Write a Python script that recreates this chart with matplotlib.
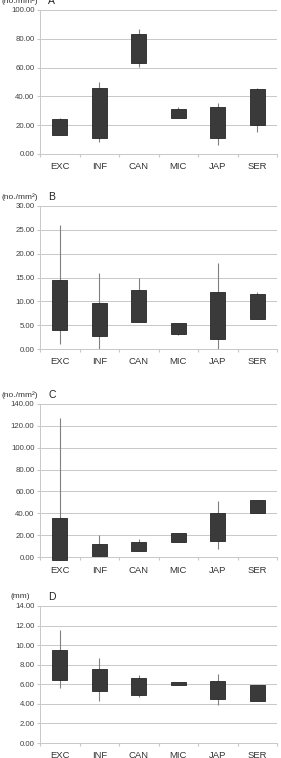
import numpy as np
import matplotlib.pyplot as plt

plt.rcParams['font.family'] = ['Liberation Sans', 'DejaVu Sans']

categorias = ['EXC', 'INF', 'CAN', 'MIC', 'JAP', 'SER']

# A
a_box_low = [13.2, 11.0, 63.0, 24.8, 11.0, 20.1]
a_box_high = [24.0, 46.0, 83.0, 31.5, 32.9, 44.9]
a_wh_low = [13.2, 8.0, 60.5, 24.8, 6.2, 15.0]
a_wh_high = [25.2, 50.2, 86.8, 32.9, 35.2, 46.0]

# B
b_box_low = [3.9, 2.8, 5.7, 3.2, 2.1, 6.3]
b_box_high = [14.5, 9.6, 12.4, 5.5, 11.9, 11.5]
b_wh_low = [1.0, 0.0, 5.7, 3.0, 0.0, 6.3]
b_wh_high = [26.0, 16.0, 15.0, 5.5, 18.0, 11.9]

# C
c_box_low = [-2.5, 1.2, 5.2, 13.8, 14.4, 40.0]
c_box_high = [35.5, 12.2, 13.8, 22.0, 40.7, 52.0]
c_wh_low = [-2.5, 0.0, 5.2, 13.8, 7.6, 40.0]
c_wh_high = [126.9, 20.5, 16.8, 22.0, 51.0, 52.0]

# D
d_box_low = [6.46, 5.3, 4.9, 5.9, 4.5, 4.25]
d_box_high = [9.52, 7.57, 6.65, 6.28, 6.38, 5.95]
d_wh_low = [5.6, 4.3, 4.75, 5.9, 3.9, 4.25]
d_wh_high = [11.5, 8.73, 6.9, 6.28, 7.1, 5.95]

paineis = [
    ('A', '(no./mm²)', a_box_low, a_box_high, a_wh_low, a_wh_high, 100, 20, 10, 154),
    ('B', '(no./mm²)', b_box_low, b_box_high, b_wh_low, b_wh_high, 30, 5, 206, 349),
    ('C', '(no./mm²)', c_box_low, c_box_high, c_wh_low, c_wh_high, 140, 20, 404, 557),
    ('D', '(mm)', d_box_low, d_box_high, d_wh_low, d_wh_high, 14, 2, 606, 743),
]

W, H = 281, 758
fig = plt.figure(figsize=(W / 100, H / 100), dpi=100)
cinza = '#c8c8c8'

for letra, unidade, bl, bh, wl, wh, ymax, passo, topo, base in paineis:
    ax = fig.add_axes([40 / W, 1 - base / H, 237 / W, (base - topo) / H])
    x = np.arange(len(categorias))
    ax.vlines(x, wl, wh, color='#808080', lw=0.8, zorder=2, clip_on=False)
    ax.bar(x, np.array(bh) - np.array(bl), bottom=bl, width=0.38,
           color='#3a3a3a', edgecolor='#262626', lw=0.6, zorder=3, clip_on=False)
    ax.set_xlim(-0.5, 5.5)
    ax.set_ylim(0, ymax)
    ticks = np.arange(0, ymax + passo / 2, passo)
    ax.set_yticks(ticks)
    ax.set_yticklabels(['{:.2f}'.format(v) for v in ticks], fontsize=5.6, color='#404040')
    ax.yaxis.grid(True, color=cinza, lw=0.7)
    ax.set_axisbelow(True)
    for s in ['top', 'right']:
        ax.spines[s].set_visible(False)
    for s in ['left', 'bottom']:
        ax.spines[s].set_color(cinza)
        ax.spines[s].set_linewidth(0.7)
    ax.tick_params(axis='y', length=2, color=cinza, pad=2)
    # categorias com marcas entre elas
    ax.set_xticks(np.arange(-0.5, 6, 1))
    ax.set_xticklabels([])
    ax.tick_params(axis='x', length=2.5, color=cinza)
    for i, c in enumerate(categorias):
        ax.text(i, -0.09, c, transform=ax.get_xaxis_transform(), ha='center', va='center',
                fontsize=6.8, color='#333333')
    ax.text(-0.085, 1.0 + 9 / (base - topo), unidade, transform=ax.transAxes,
            ha='center', va='center', fontsize=6, color='#333333')
    ax.text(0.035, 1.0 + 9 / (base - topo), letra, transform=ax.transAxes,
            ha='left', va='center', fontsize=7.5, color='#222222')

plt.savefig('out.png', dpi=100)
